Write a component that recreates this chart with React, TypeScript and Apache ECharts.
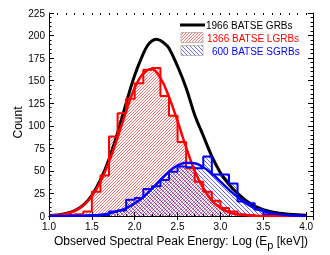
import React, { useEffect, useRef } from 'react';
import * as echarts from 'echarts';

// ---- data ----
const binStarts = [1.0, 1.1, 1.2, 1.3, 1.4, 1.5, 1.6, 1.7, 1.8, 1.9, 2.0, 2.1, 2.2, 2.3, 2.4, 2.5, 2.6, 2.7, 2.8, 2.9, 3.0, 3.1, 3.2, 3.3, 3.4, 3.5, 3.6];
const binWidth = 0.1;
const lgrbCounts = [0, 1, 1, 2, 5, 27, 45, 88, 114, 130, 147, 162, 164, 133, 111, 82, 53, 38, 27, 17, 9, 5, 2, 1, 0, 0, 0];
const sgrbCounts = [0, 0, 0, 0, 0, 0, 1, 5, 6, 18, 20, 30, 33, 40, 49, 55, 54, 53, 66, 46, 46, 36, 16, 14, 7, 2, 1];

const allFitX = [1.0, 1.1, 1.2, 1.3, 1.4, 1.5, 1.6, 1.7, 1.8, 1.9, 2.0, 2.1, 2.15, 2.2, 2.25, 2.3, 2.35, 2.4, 2.5, 2.6, 2.7, 2.8, 2.9, 3.0, 3.1, 3.2, 3.3, 3.4, 3.5, 3.6, 3.7, 3.8, 3.9, 4.0];
const allFit = [0.5, 1.1, 2.7, 6, 12, 23, 40, 63, 92, 125, 156, 180, 189, 194, 196, 194.5, 191, 186, 166, 142, 112, 89, 66, 48, 35, 25, 17, 11, 7, 4.5, 3, 2, 1.3, 0.8];
const fitX = [1.0, 1.1, 1.2, 1.3, 1.4, 1.5, 1.6, 1.7, 1.8, 1.9, 2.0, 2.1, 2.2, 2.3, 2.4, 2.5, 2.6, 2.7, 2.8, 2.9, 3.0, 3.1, 3.2, 3.3, 3.4, 3.5, 3.6, 3.7, 3.8, 3.9, 4.0];
const lgrbFit = [0.4, 1.1, 2.6, 5.7, 11.7, 22, 38, 60, 87, 116, 142, 158, 163, 153, 132, 105, 76, 50, 31, 17, 9, 4.2, 1.8, 0.7, 0.3, 0.1, 0, 0, 0, 0, 0];
const sgrbFit = [0, 0, 0.1, 0.2, 0.4, 0.7, 1.5, 2.9, 5.2, 8.8, 14, 21, 30, 40, 49, 56, 59, 58.5, 54, 47, 38, 29, 21, 14, 8.8, 5.5, 3.2, 1.8, 0.9, 0.4, 0.2];

const xMin = 1.0;
const xMax = 4.08;
const xMajor = 0.5;
const xMinor = 0.1;
const yMin = 0;
const yMax = 225;
const yMajor = 25;

const legendLabels = ['1966 BATSE GRBs', '1366 BATSE LGRBs', '600 BATSE SGRBs'];
const xTitleMain = 'Observed Spectral Peak Energy: Log (E';
const xTitleSub = 'p';
const xTitleEnd = '[keV])';
const yTitle = 'Count';

const FONT_NAME = 'Liberation Sans';
const FONT = 'Liberation Sans, Arial, Helvetica, sans-serif';

function hatch(color: string, size: number, dir: number, lw: number) {
  const c = document.createElement('canvas');
  c.width = size;
  c.height = size;
  const g = c.getContext('2d')!;
  g.strokeStyle = color;
  g.lineWidth = lw;
  g.beginPath();
  for (let k = -1; k <= 1; k++) {
    if (dir > 0) {
      g.moveTo(k * size, size);
      g.lineTo(k * size + size, 0);
    } else {
      g.moveTo(k * size, 0);
      g.lineTo(k * size + size, size);
    }
  }
  g.stroke();
  return { image: c, repeat: 'repeat', imageWidth: size, imageHeight: size } as any;
}

function stepData(counts: number[]) {
  let first = counts.findIndex((c) => c > 0);
  first = Math.max(0, first - 1);
  const pts: number[][] = [];
  for (let i = first; i < counts.length; i++) pts.push([binStarts[i], counts[i]]);
  const last = counts.length - 1;
  pts.push([+(binStarts[last] + binWidth).toFixed(2), counts[last]]);
  return pts;
}

function textWidth(t: string, size: number) {
  const g = document.createElement('canvas').getContext('2d')!;
  g.font = `${size}px "${FONT_NAME}"`;
  return g.measureText(t).width;
}

export default function App() {
  const ref = useRef<HTMLDivElement>(null);
  useEffect(() => {
    const chart = echarts.init(ref.current!, null, { renderer: 'svg' });
    const redPat = hatch('#ff0000', 3, 1, 0.55);
    const bluePat = hatch('#0000ff', 4, -1, 0.6);
    const redPatL = hatch('#ff0000', 3, 1, 0.55);
    const bluePatL = hatch('#0000ff', 4, -1, 0.6);

    const pairs = (xs: number[], ys: number[]) => xs.map((x, i) => [x, ys[i]]);
    const axisLine = { show: true, lineStyle: { color: '#000', width: 1 } };
    const majorX = {
      type: 'value', min: xMin, max: xMax, interval: xMajor, gridIndex: 0,
      axisLine, splitLine: { show: false },
      axisTick: { show: true, inside: true, length: 4, lineStyle: { color: '#000' } },
    };
    const minorX = {
      type: 'value', min: xMin, max: xMax, interval: xMinor, gridIndex: 0,
      axisLine: { show: false }, splitLine: { show: false }, axisLabel: { show: false },
      axisTick: { show: true, inside: true, length: 2, lineStyle: { color: '#000' } },
    };
    const yCommon = {
      type: 'value', min: yMin, max: yMax, interval: yMajor, gridIndex: 0,
      axisLine, splitLine: { show: false },
      axisTick: { show: true, inside: true, length: 5, lineStyle: { color: '#000' } },
      minorTick: { show: true, splitNumber: 5, length: 2.5, lineStyle: { color: '#000' } },
    };

    // x-axis title pieces (E with subscript p)
    const w1 = textWidth(xTitleMain, 12);
    const wp = textWidth(xTitleSub, 11);
    const wsp = textWidth(' ', 12);
    const w3 = textWidth(xTitleEnd, 12);
    const plotCenter = 181;
    const startX = plotCenter - (w1 + wp + wsp + w3) / 2;

    const option: any = {
      animation: false,
      textStyle: { fontFamily: FONT },
      grid: { left: 49, right: 17, top: 13, bottom: 39, containLabel: false, outerBoundsMode: 'none' },
      xAxis: [
        {
          ...majorX, position: 'bottom',
          axisLabel: {
            fontSize: 10, color: '#000', margin: 5, fontFamily: FONT,
            formatter: (v: number) => (Math.abs(v / xMajor - Math.round(v / xMajor)) < 1e-6 ? v.toFixed(1) : ''),
          },
        },
        { ...majorX, position: 'top', axisLabel: { show: false } },
        { ...minorX, position: 'bottom' },
        { ...minorX, position: 'top' },
      ],
      yAxis: [
        { ...yCommon, position: 'left', axisLabel: { fontSize: 10, color: '#000', margin: 4, fontFamily: FONT } },
        { ...yCommon, position: 'right', axisLabel: { show: false } },
      ],
      series: [
        {
          type: 'line', step: 'end', data: stepData(lgrbCounts), symbol: 'none', silent: true,
          lineStyle: { width: 0, opacity: 0 }, areaStyle: { color: redPat, opacity: 1 }, z: 1,
        },
        {
          type: 'line', step: 'end', data: stepData(sgrbCounts), symbol: 'none', silent: true,
          lineStyle: { width: 0, opacity: 0 }, areaStyle: { color: bluePat, opacity: 1 }, z: 2,
        },
        {
          type: 'line', data: pairs(allFitX, allFit), smooth: 0.4, symbol: 'none', silent: true,
          lineStyle: { color: '#000', width: 3 }, z: 3,
        },
        {
          type: 'line', step: 'end', data: stepData(lgrbCounts), symbol: 'none', silent: true,
          lineStyle: { color: '#ff0000', width: 2 }, z: 4,
        },
        {
          type: 'line', step: 'end', data: stepData(sgrbCounts), symbol: 'none', silent: true,
          lineStyle: { color: '#0000ff', width: 2 }, z: 4,
        },
        {
          type: 'line', data: pairs(fitX, lgrbFit), smooth: 0.4, symbol: 'none', silent: true,
          lineStyle: { color: '#ff0000', width: 2.5 }, z: 5,
        },
        {
          type: 'line', data: pairs(fitX, sgrbFit), smooth: 0.4, symbol: 'none', silent: true,
          lineStyle: { color: '#0000ff', width: 2.5 }, z: 5,
        },
      ],
      graphic: [
        {
          type: 'text', x: 18, y: 122.5, rotation: Math.PI / 2, silent: true,
          style: { text: yTitle, fontSize: 12, fontFamily: FONT, fill: '#000', align: 'center', verticalAlign: 'middle' },
        },
        {
          type: 'text', x: startX, y: 240.8, silent: true,
          style: { text: xTitleMain, fontSize: 12, fontFamily: FONT, fill: '#000', align: 'left', verticalAlign: 'middle' },
        },
        {
          type: 'text', x: startX + w1, y: 244.5, silent: true,
          style: { text: xTitleSub, fontSize: 11, fontFamily: FONT, fill: '#000', align: 'left', verticalAlign: 'middle' },
        },
        {
          type: 'text', x: startX + w1 + wp + wsp, y: 240.8, silent: true,
          style: { text: xTitleEnd, fontSize: 12, fontFamily: FONT, fill: '#000', align: 'left', verticalAlign: 'middle' },
        },
        { type: 'line', shape: { x1: 180, y1: 25, x2: 205, y2: 25 }, style: { stroke: '#000', lineWidth: 3 }, silent: true },
        { type: 'rect', shape: { x: 181, y: 32.5, width: 22, height: 10 }, style: { fill: redPatL, stroke: '#999', lineWidth: 0.6 }, silent: true },
        { type: 'rect', shape: { x: 181, y: 45.5, width: 22, height: 10 }, style: { fill: bluePatL, stroke: '#999', lineWidth: 0.6 }, silent: true },
        {
          type: 'text', x: 206, y: 25, silent: true,
          style: { text: legendLabels[0], fontSize: 10, fontFamily: FONT, fill: '#000', align: 'left', verticalAlign: 'middle' },
        },
        {
          type: 'text', x: 207, y: 38, silent: true,
          style: { text: legendLabels[1], fontSize: 10, fontFamily: FONT, fill: '#ff0000', align: 'left', verticalAlign: 'middle' },
        },
        {
          type: 'text', x: 212, y: 51, silent: true,
          style: { text: legendLabels[2], fontSize: 10, fontFamily: FONT, fill: '#0000ff', align: 'left', verticalAlign: 'middle' },
        },
      ],
    };
    chart.setOption(option);
    return () => chart.dispose();
  }, []);
  return <div ref={ref} style={{ position: 'fixed', left: 0, top: 0, width: 330, height: 255 }} />;
}
